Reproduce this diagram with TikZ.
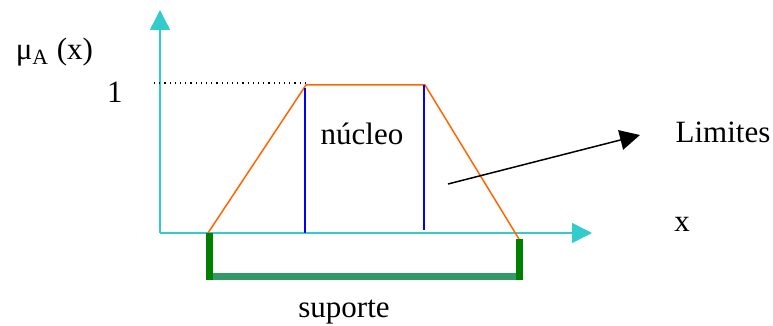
\documentclass[tikz,border=0pt]{standalone}
\usepackage{fontspec}
\setmainfont{Liberation Serif}
\usetikzlibrary{arrows.meta}

\definecolor{axiscyan}{HTML}{33CCCC}
\definecolor{trapred}{HTML}{FF6600}
\definecolor{coreblue}{HTML}{0000FF}
\definecolor{suppgreen}{HTML}{008000}
\definecolor{suppbar}{HTML}{339966}

\begin{document}
\begin{tikzpicture}[x=0.5pt,y=-0.5pt,line width=0.75pt,
  lbl/.style={anchor=base,inner sep=0pt,font=\fontsize{15.5}{18}\selectfont}]

  \useasboundingbox (0,0) rectangle (773,326);

  % The axes
  \coordinate (O) at (160,233);
  \coordinate (ytip) at (160,10);
  \coordinate (xtip) at (592,233);
  \draw[axiscyan,-{Triangle[length=10pt,width=10pt]}] (O) -- (ytip);
  \draw[axiscyan,-{Triangle[length=10pt,width=10pt]}] (O) -- (xtip);

  % Corners of the trapezoid
  \coordinate (a) at (208,233);
  \coordinate (b) at (306,85);
  \coordinate (c) at (425,85);
  \coordinate (d) at (519,239);

  % Level 1
  \coordinate (one) at (154,83);
  \draw[dotted,line width=0.6pt] (one) -- (b |- one);

  % The membership function
  \draw[trapred] (a) -- (b) -- (c) -- (d);

  % Core edges
  \draw[coreblue] (305,88) -- (305,233);
  \draw[coreblue] (424,85) -- (424,230);

  % The support
  \draw[suppbar,line width=3.5pt] (213,277) -- (519,277);
  \draw[suppgreen,line width=3.5pt] (209,233) -- (209,280);
  \draw[suppgreen,line width=3.5pt] (519,239) -- (519,280);

  % Labels
  \node[lbl,anchor=base west] (mu) at (15,60) {μ\textsubscript{A} (x)};
  \node[lbl] (lone) at (115,103) {1};
  \node[lbl] (core) at (362,145) {núcleo};
  \node[lbl] (lim) at (723,143) {Limites};
  \node[lbl] (xlab) at (682,232) {x};
  \node[lbl] (supp) at (344,318) {suporte};

  % Arrow to the limits
  \coordinate (from) at (448,184);
  \coordinate (to) at (640,135);
  \draw[-{Triangle[length=10pt,width=10pt]}] (from) -- (to);

\end{tikzpicture}
\end{document}
